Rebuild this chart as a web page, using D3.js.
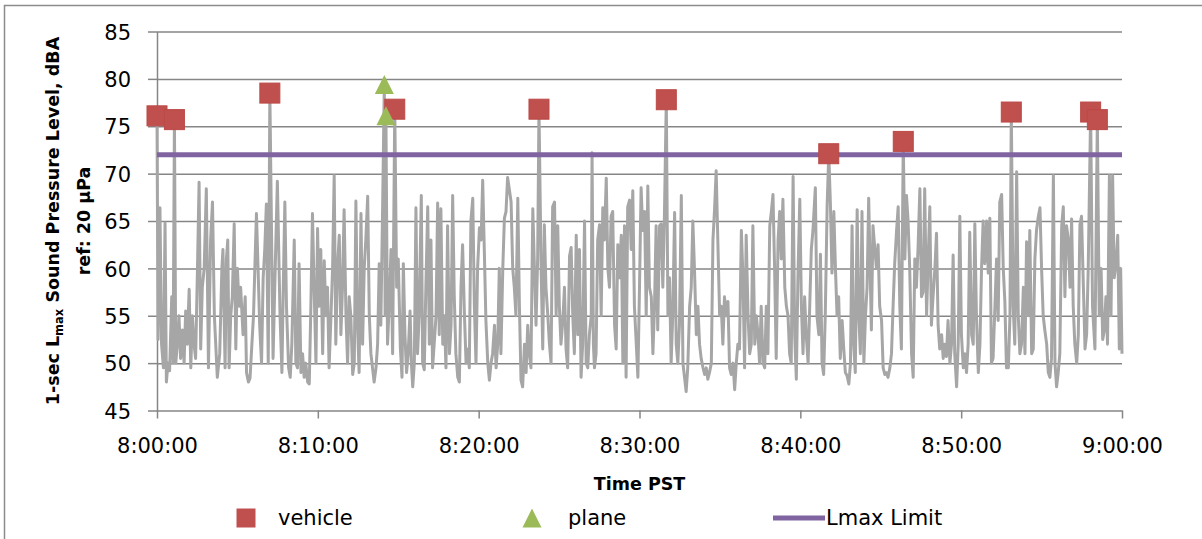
<!DOCTYPE html>
<html>
<head>
<meta charset="utf-8">
<script src="https://cdn.jsdelivr.net/npm/d3@7"></script>
<style>
  body { margin: 0; background: #ffffff; }
  svg { display: block; }
</style>
</head>
<body>
<svg id="chart" width="1202" height="539"></svg>
<script>
// 1-second Lmax record, 8:00:00 - 9:00:00 PST (seconds after 8:00:00, dBA)
const tSec = [
  0,4,11,17,24,30,35,41,47,55,60,65,70,76,82,88,95,101,107,113,120,126,132,138,144,151,157,163,169,176,
  184,192,200,207,214,225,234,242,246,254,259,264,269,275,281,288,294,300,306,312,321,329,334,341,347,354,360,366,371,377,
  383,390,396,402,408,415,421,
  433,441,449,459,466,471,477,483,491,497,503,512,518,524,530,537,543,549,555,562,568,574,580,586,593,599,605,611,618,624,
  630,636,642,649,655,661,667,674,680,686,692,698,705,711,717,723,730,736,742,748,754,761,767,773,779,786,792,798,804,810,
  817,823,829,835,842,848,851,854,860,
  866,873,879,887,894,900,908,914,919,925,931,937,944,949,954,960,966,972,978,986,991,997,1003,1010,1016,1022,1028,1034,1041,1047,
  1053,1059,1066,1072,1078,1084,1091,1097,1103,1109,1115,1122,1128,1134,1140,1147,1153,1159,1165,1171,1178,1184,1190,1196,1203,1209,1215,1221,1227,1234,
  1240,1246,1252,1259,1265,1271,1277,1283,1290,1296,1302,1308,
  1321,1327,1333,1339,1346,1352,1358,1364,1371,1377,1383,1389,1395,1402,1408,1414,1420,1425,1433,1439,1445,1451,1458,1464,1470,1476,1483,1489,1495,1501,
  1507,1514,1520,1526,1532,1539,1545,1551,1557,1564,1570,1576,1582,1588,1595,1601,1607,1613,1620,1623,1628,1632,1638,1644,1651,1657,1663,1669,1676,1682,
  1688,1694,1700,1707,1713,1719,1725,1732,1738,1744,1750,1756,1763,
  1769,1775,1781,1788,1794,1800,1806,1812,1819,1825,1831,1837,1844,1850,1856,1862,1868,1875,1881,1887,1893,1900,1906,1912,1918,1924,1931,1937,1943,1949,
  1956,1962,1968,1974,1980,1987,1993,1999,2005,2012,2018,2024,2030,2037,2043,2049,2055,2061,2068,2074,2080,2086,2093,2099,2105,2111,2117,2124,2130,2136,
  2142,2149,2155,2161,2167,2173,2180,2186,2192,2198,2205,2211,
  2217,2223,2230,2236,2242,2248,2254,2261,2267,2273,2279,2286,2292,2298,2304,2310,2317,2323,2329,2335,2342,2348,2354,2360,2366,2373,2379,2385,2391,2398,
  2404,2410,2416,2422,2429,2435,2441,2447,2456,2462,2469,2475,2481,2487,2493,2500,2506,2512,2518,2525,2531,2537,2543,2549,2556,2562,2568,2574,2581,2587,
  2593,2599,2605,2612,2618,2624,2630,2637,2643,2649,2655,
  2665,2671,2678,2684,2690,2696,2703,2709,2715,2721,2727,2734,2740,2746,2752,2759,2765,2771,2777,2784,2790,2796,2802,2808,2815,2821,2827,2833,2839,2846,
  2852,2858,2864,2871,2877,2883,2889,2895,2902,2908,2914,2920,2927,2933,2939,2945,2951,2958,2964,2970,2976,2983,2989,2995,3001,3008,3014,3020,3026,3032,
  3039,3045,3051,3057,3064,3070,3076,3082,3088,3095,3101,
  3107,3113,3119,3126,3132,3138,3144,3151,3157,3163,3169,3176,3182,3187,3194,3200,3207,3213,3219,3225,3232,3238,3244,3250,3256,3263,3269,3275,3281,3288,
  3294,3300,3306,3312,3319,3325,3331,3337,3344,3350,3356,3362,3368,3375,3381,3387,3393,3400,3406,3412,3418,3424,3431,3437,3443,3449,3456,3462,3468,3474,
  3483,3490,3499,3508,3515,3522,3528,3534,3540,3546,3553,3559,3565,3571,3578,3584,3590,3595,3600
];
const splDb = [
  76.1,52.5,66.4,52,49.5,64.8,48,50,49.2,57,50,75.7,50,52,55,50.5,53.5,50,55.5,52,57.8,49.5,55,52,50.5,60,69.1,51.5,58,60,
  68.4,49.5,63,67,55,48.5,51,60,62,49.5,61,63,49.5,55,57,64.7,51.5,60,56,58,53,57,49,48,48.4,52,55,61,65.8,60,
  54,50,59,62,66.8,50,78.5,
  50.5,60,69.2,55,49,58,67,56,49.5,48.5,52,63,50,49.5,60.5,49,51,48.5,50,48,47.8,56,65.8,58,50,64.2,56,62,51,60.8,
  55,58,49.5,55,60,69.8,52,60.5,63.5,53,58,66.2,55,50,57,55,48.8,50,67.1,54,49,65.8,52,60,63,67.6,55,51,49.5,48,
  49.5,52,60.5,54,67,79.4,55,76.1,52,
  56,62,51,76.8,58,61,51.5,48.5,60.5,53,49,51,55.5,50,47.5,50,66.4,51,55,67.7,50,49.3,58,66.5,52,63,49.5,52,55,66.9,
  53,66.3,52,55,49.5,64.5,51,54,67.7,57,51,48.5,48,58,62.5,55,50,51.5,49.5,65,67.4,56,50,60,64.3,63,69.3,62,54.5,50,
  48.2,50,51,54,49.5,52,60,51,60,65.3,66,69.6,
  67,60,58,55,67.4,56,48.2,47.5,52,49,54,51,49.5,66.3,60,54,61,76.8,60,51.5,64.6,58,55,52,50,66.5,67,55,64.5,56,
  52,54.5,58,51.5,49.5,61.3,62.2,55,51,63.5,53,62,48.5,52,65,50,49.5,53,55,72.2,52,49.5,51,63,64.6,55,66.4,63,69.5,60,
  58,65.5,66,54,51.5,62.5,59,63.5,50,64.5,48.5,66.5,67.2,
  62,68.2,56,52,48.5,58,68.5,64,66,55,68.7,58,57,51,56,64.5,53.5,64.5,64.7,58,65.6,77.8,55,59,50,55,65.9,52,50,54,
  67.7,50,48.5,47,49.5,56,58,65,60,53,56,52,50.5,49.5,48.8,49.5,48.3,49,50,63,66.2,70.3,62,55,56,52,57,55,56.5,49.5,
  48.8,50,47.2,50,52,51.5,64,59,49.5,63.5,55,51,
  52,64.5,52,55,53,50,56,50,49.5,56,51,64.5,66,67.8,60,50.5,63,66,61,67.3,58,56,55,51,50,69.7,53,48.3,59,67.3,
  56,51,57,53,50,56,62,64,68.5,55,53,61.5,50,48.8,55,66.6,72.1,67,59.5,66,60,55,57,50.5,54.5,51.5,49,48.7,47.8,50,
  64.5,52,49,66.2,55,51,66,50,55,58,67.4,
  53.5,64.5,62,60,62.5,56,54.5,49.5,48.8,49,48.5,49.5,51,56,60.5,64,66.5,56,51.5,73.4,61,67.7,65,60,51,48.5,61,58,62,68.4,
  57,57.5,68.4,55,61,66.5,54,57,60,63.7,54,51.5,53,50.5,52,50.7,54.5,50,52,61.4,51,47.5,52,65.5,53,49.5,51,49,52,63.8,
  53,52,64.7,55,49,52,60,65,60.5,65,59.5,
  65.3,50,50.5,56,61,54.5,67,67.8,60,56.5,49.5,49.5,55,76.5,56,52,70.2,55,51,52,58,51,62.8,55,64,51,51.5,61,64,65.5,
  66.4,60,55,53.5,52,49,48.5,50.5,69.8,50,47.5,49,51,64.5,66.5,57,64.5,63,58,65.2,56,52,50,53,64.6,65.5,58,51.5,53,60,
  76.5,56,51.5,75.7,55,60,52.5,53.5,57,52,69.8,55,69.8,59,60.5,63.5,51.5,60,51
];

// Identified events (seconds after 8:00:00, dBA)
const vehicleSec = [0, 65, 421, 887, 1425, 1900, 2506, 2784, 3187, 3483, 3508];
const vehicleDb  = [76.1, 75.7, 78.5, 76.8, 76.8, 77.8, 72.1, 73.4, 76.5, 76.5, 75.7];
const planeSec = [848, 854];
const planeDb  = [79.4, 76.1];

// Lmax limit, dBA
const lmaxLimit = 72;

// Axis ticks
const timeTicks = ["8:00:00", "8:10:00", "8:20:00", "8:30:00", "8:40:00", "8:50:00", "9:00:00"];
const levelTicks = [45, 50, 55, 60, 65, 70, 75, 80, 85];

const parseTime = d3.timeParse("%H:%M:%S");
const fmtTime = d3.timeFormat("%-H:%M:%S");
const t0 = parseTime("8:00:00");
const toDate = s => new Date(t0.getTime() + s * 1000);

const svg = d3.select("#chart");
const W = 1202, H = 539;
const plot = { left: 157, right: 1122, top: 31.5, bottom: 410.5 };

const x = d3.scaleTime()
  .domain([parseTime(timeTicks[0]), parseTime(timeTicks[timeTicks.length - 1])])
  .range([plot.left, plot.right]);
const y = d3.scaleLinear()
  .domain([levelTicks[0], levelTicks[levelTicks.length - 1]])
  .range([plot.bottom, plot.top]);

const axisColor = "#868686";
const tickFont = "'DejaVu Sans', sans-serif";

svg.append("rect").attr("width", W).attr("height", H).attr("fill", "#ffffff");

// chart frame (top and left edges)
svg.append("path")
  .attr("d", `M4.5,${H} V5.5 H${W}`)
  .attr("fill", "none")
  .attr("stroke", "#8c8c8c")
  .attr("stroke-width", 1.5);

// horizontal gridlines
svg.append("g")
  .attr("transform", `translate(${plot.left},0)`)
  .call(d3.axisLeft(y).tickValues(levelTicks.slice(1)).tickSize(-(plot.right - plot.left)).tickFormat(""))
  .call(g => g.select(".domain").remove())
  .call(g => g.selectAll("line").attr("stroke", axisColor).attr("stroke-width", 1.5));

// y axis
svg.append("g")
  .attr("transform", `translate(${plot.left},0)`)
  .call(d3.axisLeft(y).tickValues(levelTicks).tickSize(9).tickSizeOuter(0).tickPadding(17))
  .call(g => g.select(".domain").attr("stroke", axisColor).attr("stroke-width", 1.5))
  .call(g => g.selectAll("line").attr("stroke", axisColor).attr("stroke-width", 1.5))
  .call(g => g.selectAll("text")
    .attr("font-family", tickFont).attr("font-size", 21).attr("fill", "#000")
    .attr("dy", "0.365em"));

// x axis
svg.append("g")
  .attr("transform", `translate(0,${plot.bottom})`)
  .call(d3.axisBottom(x).tickValues(timeTicks.map(parseTime)).tickFormat(fmtTime).tickSize(8).tickSizeOuter(0))
  .call(g => g.select(".domain").attr("stroke", axisColor).attr("stroke-width", 1.5))
  .call(g => g.selectAll("line").attr("stroke", axisColor).attr("stroke-width", 1.5))
  .call(g => g.selectAll("text")
    .attr("font-family", tickFont).attr("font-size", 21).attr("fill", "#000")
    .attr("y", 42.5).attr("dy", 0));

// measured level trace
const series = tSec.map((s, i) => ({ t: toDate(s), v: splDb[i] }));
svg.append("path")
  .datum(series)
  .attr("fill", "none")
  .attr("stroke", "#a6a6a6")
  .attr("stroke-width", 3)
  .attr("stroke-linejoin", "round")
  .attr("d", d3.line().x(d => x(d.t)).y(d => y(d.v)));

// Lmax limit line
const limitLine = [x.domain()[0], x.domain()[1]].map(t => ({ t, v: lmaxLimit }));
svg.append("path")
  .datum(limitLine)
  .attr("fill", "none")
  .attr("stroke", "#8064a2")
  .attr("stroke-width", 5)
  .attr("d", d3.line().x(d => x(d.t)).y(d => y(d.v)));

// vehicle events
const sq = 20;
svg.append("g").selectAll("rect")
  .data(vehicleSec.map((s, i) => ({ t: toDate(s), v: vehicleDb[i] })))
  .join("rect")
  .attr("x", d => x(d.t) - sq / 2)
  .attr("y", d => y(d.v) - sq / 2)
  .attr("width", sq).attr("height", sq)
  .attr("fill", "#c0504d")
  .attr("stroke", "#bb4a47").attr("stroke-width", 1);

// plane events
const tri = 19;
const triPath = `M0,${-tri / 2}L${tri / 2},${tri / 2}L${-tri / 2},${tri / 2}Z`;
svg.append("g").selectAll("path")
  .data(planeSec.map((s, i) => ({ t: toDate(s), v: planeDb[i] })))
  .join("path")
  .attr("d", triPath)
  .attr("transform", d => `translate(${x(d.t)},${y(d.v)})`)
  .attr("fill", "#9bbb59");

// axis titles
svg.append("text")
  .attr("x", (plot.left + plot.right) / 2).attr("y", 490)
  .attr("text-anchor", "middle")
  .attr("font-family", tickFont).attr("font-weight", "bold").attr("font-size", 17.5)
  .text("Time PST");

const yTitle = svg.append("text")
  .attr("transform", `translate(58.5,${(plot.top + plot.bottom) / 2}) rotate(-90)`)
  .attr("text-anchor", "middle")
  .attr("font-family", tickFont).attr("font-weight", "bold").attr("font-size", 17.5);
yTitle.append("tspan").text("1-sec L");
yTitle.append("tspan").attr("font-size", 11.5).attr("dy", 4).text("max");
yTitle.append("tspan").attr("dy", -4).text(" Sound Pressure Level, dBA");

svg.append("text")
  .attr("transform", `translate(90,${(plot.top + plot.bottom) / 2}) rotate(-90)`)
  .attr("text-anchor", "middle")
  .attr("font-family", tickFont).attr("font-weight", "bold").attr("font-size", 17.5)
  .text("ref: 20 µPa");

// legend
const legY = 518;
const legend = svg.append("g").attr("font-family", tickFont).attr("font-size", 21).attr("fill", "#000");
legend.append("rect")
  .attr("x", 246 - 9.5).attr("y", legY - 9.5).attr("width", 19).attr("height", 19)
  .attr("fill", "#c0504d");
legend.append("text").attr("x", 278).attr("y", legY + 7).text("vehicle");
legend.append("path")
  .attr("d", triPath)
  .attr("transform", `translate(532,${legY})`)
  .attr("fill", "#9bbb59");
legend.append("text").attr("x", 568).attr("y", legY + 7).text("plane");
legend.append("line")
  .attr("x1", 773).attr("x2", 825).attr("y1", legY).attr("y2", legY)
  .attr("stroke", "#8064a2").attr("stroke-width", 5);
legend.append("text").attr("x", 826).attr("y", legY + 7).text("Lmax Limit");
</script>
</body>
</html>
